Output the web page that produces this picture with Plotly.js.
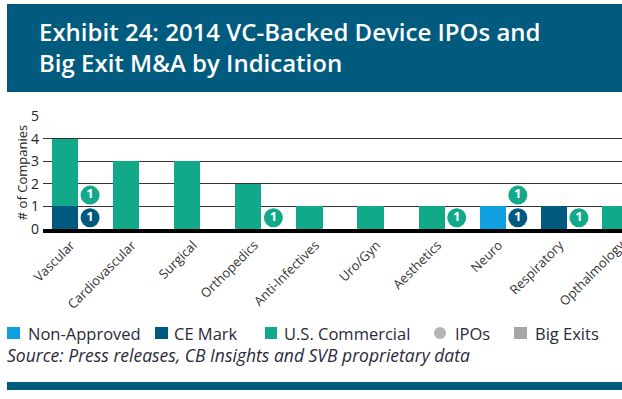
<!DOCTYPE html>
<html>
<head>
<meta charset="utf-8">
<script src="https://cdn.plot.ly/plotly-3.0.1.min.js"></script>
<style>
html,body{margin:0;padding:0;background:#fff;overflow:hidden;}
#chart{width:622px;height:399px;}
</style>
</head>
<body>
<div id="chart"></div>
<script>
// ---- data ----
const categories = ['Vascular','Cardiovascular','Surgical','Orthopedics','Anti-Infectives','Uro/Gyn','Aesthetics','Neuro','Respiratory','Opthalmology'];
const nonApproved   = [0,0,0,0,0,0,0,1,0,0];
const ceMark        = [1,0,0,0,0,0,0,0,1,0];
const usCommercial  = [3,3,3,2,1,1,1,0,0,1];
const ipoCategory = ['Vascular','Vascular','Orthopedics','Aesthetics','Neuro','Neuro','Respiratory'];
const ipoStatus   = ['CE Mark','U.S. Commercial','U.S. Commercial','U.S. Commercial','CE Mark','U.S. Commercial','U.S. Commercial'];
const ipoCount    = [1,1,1,1,1,1,1];
const yTicks = [0,1,2,3,4,5];

// ---- style ----
const C_NON = '#109fdf', C_CE = '#005a80', C_US = '#12a98a', C_GREY = '#b5b5b5', C_BIG = '#a6a6a6';
const FONT = '"Open Sans", sans-serif';
const idx = categories.map((c,i)=>i);
const BW = 0.43, BUB_OFF = 0.41;

// stack IPO bubbles per category
const stackCount = {};
const ipoX = [], ipoY = [], ipoColor = [];
ipoCategory.forEach((c,i)=>{
  const k = stackCount[c] || 0;
  stackCount[c] = k+1;
  ipoX.push(categories.indexOf(c) + BUB_OFF);
  ipoY.push(k + 0.5);
  ipoColor.push(ipoStatus[i]==='CE Mark' ? C_CE : C_US);
});

const traces = [
  {type:'bar', name:'Non-Approved', x:idx, y:nonApproved, width:BW, marker:{color:C_NON}, hoverinfo:'skip'},
  {type:'bar', name:'CE Mark', x:idx, y:ceMark, width:BW, marker:{color:C_CE}, hoverinfo:'skip'},
  {type:'bar', name:'U.S. Commercial', x:idx, y:usCommercial, width:BW, marker:{color:C_US}, hoverinfo:'skip'},
  {type:'scatter', mode:'markers+text', name:'IPOs', x:ipoX, y:ipoY, text:ipoCount.map(String),
   textposition:'middle center', textfont:{color:'#fff', size:13, family:FONT, weight:'bold'},
   marker:{size:19, color:ipoColor, line:{width:0}}, cliponaxis:false, hoverinfo:'skip'}
];

// legend (drawn as shapes + text)
const legendItems = [
  {label:'Non-Approved', color:C_NON, x0:7, x1:20, tx:26, shape:'rect'},
  {label:'CE Mark', color:C_CE, x0:155, x1:168, tx:172, shape:'rect'},
  {label:'U.S. Commercial', color:C_US, x0:265, x1:277, tx:282, shape:'rect'},
  {label:'IPOs', color:C_GREY, x0:434, x1:446, tx:453, shape:'circle'},
  {label:'Big Exits', color:C_BIG, x0:514, x1:527, tx:533, shape:'rect'}
];
const W = 622, H = 399;
const PL = 43, PR = 0, PT = 116, PB = 170;
const pw = W-PL-PR, ph = H-PT-PB;
const px = v => (v-PL)/pw;          // container px -> paper x
const py = v => (H-PB-v)/ph;        // container px -> paper y

const shapes = [
  {type:'rect', xref:'paper', yref:'paper', x0:px(7), x1:px(640), y0:py(92), y1:py(4), fillcolor:'#005b7f', line:{width:0}, layer:'below'},
  {type:'rect', xref:'paper', yref:'paper', x0:px(7), x1:px(640), y0:py(390), y1:py(382), fillcolor:'#005b7f', line:{width:0}, layer:'below'}
];
const annotations = [];
legendItems.forEach(it=>{
  shapes.push({type:it.shape, xref:'paper', yref:'paper', x0:px(it.x0), x1:px(it.x1), y0:py(339), y1:py(327), fillcolor:it.color, line:{width:0}});
  annotations.push({xref:'paper', yref:'paper', x:px(it.tx), y:py(333), xanchor:'left', yanchor:'middle', showarrow:false,
    text:it.label, font:{family:FONT, size:16.5, color:'#2a2a3a'}});
});
annotations.push({xref:'paper', yref:'paper', x:px(5), y:py(355), xanchor:'left', yanchor:'middle', showarrow:false,
  text:'<i>Source: Press releases, CB Insights and SVB proprietary data</i>', font:{family:FONT, size:17.5, color:'#2a2a3a'}});

const layout = {
  width:W, height:H,
  margin:{l:PL, r:PR, t:PT, b:PB, pad:0},
  paper_bgcolor:'#fff', plot_bgcolor:'#fff',
  showlegend:false,
  barmode:'stack',
  font:{family:FONT, color:'#333'},
  title:{text:'Exhibit 24: 2014 VC-Backed Device IPOs and<br>Big Exit M&A by Indication',
    font:{family:FONT, size:24, color:'#fff', weight:600}, x:39/W, xanchor:'left', xref:'container',
    y:(H-41)/H, yanchor:'middle', yref:'container'},
  xaxis:{range:[-22/61.1, 9+7/61.1], tickvals:idx, ticktext:categories, tickangle:-45,
    showgrid:false, zeroline:false, showline:true, linecolor:'#000', linewidth:3.5, ticks:'',
    ticklabeloverflow:'allow', ticklabelshift:6,
    tickfont:{family:FONT, size:13, color:'#333'}},
  yaxis:{range:[0,5], tickvals:yTicks, showgrid:true, gridcolor:'#333', gridwidth:1.2, zeroline:false,
    ticks:'', tickfont:{family:FONT, size:14, color:'#222'}, ticklabelstandoff:3,
    title:{text:'# of Companies', font:{family:FONT, size:13, color:'#222'}, standoff:0}},
  shapes:shapes,
  annotations:annotations
};
Plotly.newPlot('chart', traces, layout, {staticPlot:true});
</script>
</body>
</html>
